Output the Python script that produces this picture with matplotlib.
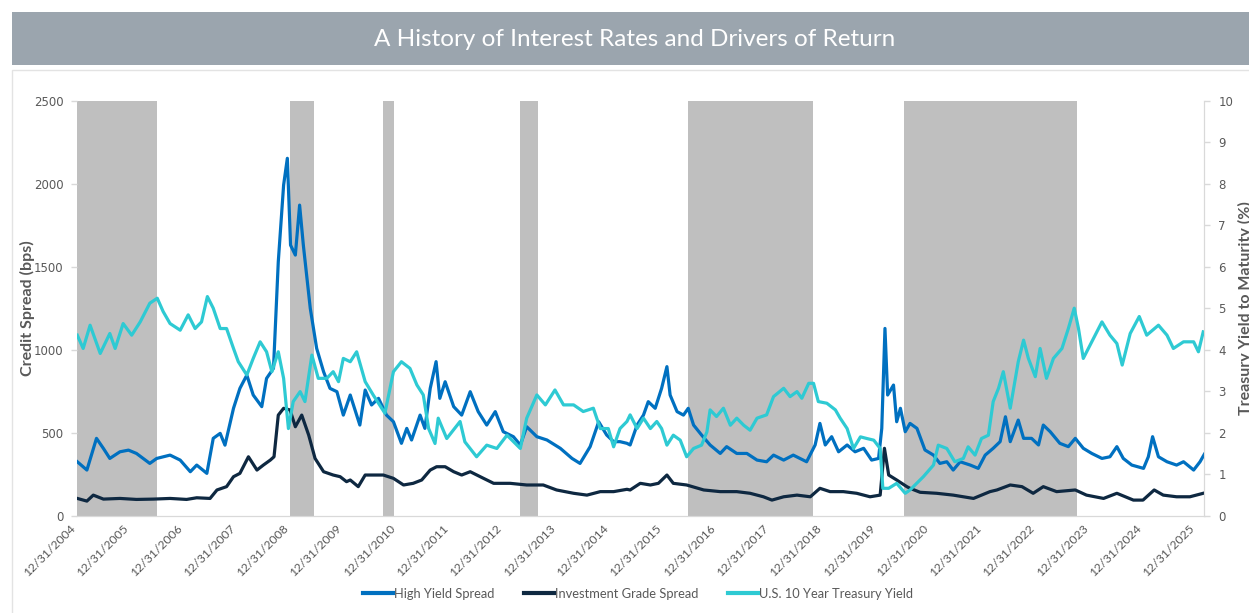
import matplotlib.pyplot as plt
from matplotlib.patches import Rectangle

# values; x is in decimal years (2005.0 = 12/31/2004)
hy_years = [2005.00, 2005.18, 2005.36, 2005.49, 2005.61, 2005.80, 2005.96, 2006.11, 2006.36, 2006.49,
            2006.74, 2006.93, 2007.12, 2007.24, 2007.43, 2007.55, 2007.68, 2007.77, 2007.93, 2008.05,
            2008.18, 2008.30, 2008.46, 2008.55, 2008.68, 2008.77, 2008.87, 2008.94, 2009.00, 2009.09,
            2009.17, 2009.24, 2009.37, 2009.49, 2009.62, 2009.74, 2009.87, 2009.99,
            2010.12, 2010.30, 2010.40, 2010.52, 2010.65, 2010.80, 2010.93, 2011.08, 2011.18, 2011.27,
            2011.43, 2011.52, 2011.62, 2011.73, 2011.80, 2011.90, 2012.06, 2012.21, 2012.37, 2012.52,
            2012.68, 2012.84, 2012.99, 2013.18, 2013.31, 2013.43, 2013.62, 2013.81, 2014.06, 2014.28,
            2014.43, 2014.62, 2014.78, 2014.93, 2015.06, 2015.18, 2015.31,
            2015.37, 2015.50, 2015.62, 2015.71, 2015.84, 2015.96, 2016.06, 2016.12, 2016.25, 2016.37,
            2016.46, 2016.56, 2016.71, 2016.87, 2017.06, 2017.18, 2017.37, 2017.56, 2017.75, 2017.93,
            2018.06, 2018.25, 2018.43, 2018.68, 2018.84, 2018.93, 2019.03, 2019.15, 2019.28, 2019.44,
            2019.59, 2019.75, 2019.90, 2020.03, 2020.09, 2020.15, 2020.20, 2020.31, 2020.37, 2020.44,
            2020.53,
            2020.62, 2020.75, 2020.90, 2021.06, 2021.18, 2021.31, 2021.43, 2021.56, 2021.75, 2021.90,
            2022.03, 2022.18, 2022.31, 2022.41, 2022.50, 2022.65, 2022.75, 2022.90, 2023.03, 2023.12,
            2023.25, 2023.43, 2023.59, 2023.72, 2023.87, 2024.03, 2024.22, 2024.37, 2024.50, 2024.62,
            2024.78, 2025.00, 2025.09, 2025.17, 2025.28, 2025.44, 2025.62, 2025.75, 2025.94, 2026.06,
            2026.14]
hy_spread = [325, 275, 466, 405, 345, 385, 395, 375, 315, 345,
             365, 335, 265, 305, 255, 466, 496, 425, 647, 767,
             847, 727, 657, 827, 888, 1530, 1992, 2153, 1630, 1570,
             1871, 1630, 1249, 1008, 867, 767, 747, 606,
             727, 546, 757, 667, 707, 606, 566, 436, 526, 456,
             606, 526, 767, 928, 707, 807, 657, 606, 747, 627,
             546, 627, 506, 476, 426, 536, 476, 456, 406, 345,
             315, 416, 566, 486, 446, 446, 436,
             426, 546, 606, 687, 647, 767, 898, 727, 627, 606,
             647, 546, 486, 426, 375, 416, 375, 375, 335, 325,
             365, 335, 365, 325, 426, 556, 426, 476, 385, 426,
             385, 406, 335, 345, 526, 1128, 727, 787, 566, 647,
             506,
             556, 526, 396, 365, 315, 325, 275, 325, 305, 285,
             365, 406, 446, 596, 446, 576, 466, 466, 426, 546,
             506, 436, 416, 466, 406, 375, 345, 355, 416, 345,
             305, 285, 355, 476, 355, 325, 305, 325, 275, 325,
             370]

ig_years = [2005.00, 2005.18, 2005.30, 2005.49, 2005.80, 2006.11, 2006.43, 2006.74, 2007.05, 2007.24,
            2007.49, 2007.62, 2007.80, 2007.93, 2008.05, 2008.21, 2008.37, 2008.49, 2008.62, 2008.69,
            2008.77, 2008.87, 2008.99, 2009.09, 2009.21, 2009.34, 2009.46, 2009.62, 2009.80, 2009.93,
            2010.05, 2010.12, 2010.27, 2010.40, 2010.74, 2010.93, 2011.12, 2011.30, 2011.46, 2011.62,
            2011.74, 2011.90, 2012.06, 2012.21, 2012.37, 2012.62, 2012.81, 2013.12, 2013.43, 2013.74,
            2013.99, 2014.31, 2014.56, 2014.81, 2015.06, 2015.31, 2015.37, 2015.56, 2015.75, 2015.90,
            2016.06, 2016.18, 2016.43, 2016.75, 2017.06, 2017.37, 2017.62, 2017.87, 2018.03, 2018.25,
            2018.50, 2018.75, 2018.93, 2019.12, 2019.37, 2019.62, 2019.87, 2020.06, 2020.14, 2020.22,
            2020.37, 2020.56, 2020.62, 2020.81, 2021.12, 2021.43, 2021.81, 2022.12, 2022.25, 2022.50,
            2022.72, 2022.93, 2023.12, 2023.37, 2023.72, 2023.93, 2024.25, 2024.50, 2024.81, 2024.99,
            2025.20, 2025.37, 2025.62, 2025.87, 2026.12]
ig_spread = [104, 88, 124, 100, 104, 98, 100, 104, 98, 108,
             104, 155, 175, 235, 255, 355, 275, 305, 335, 355,
             606, 647, 637, 536, 606, 486, 345, 265, 245, 235,
             205, 215, 175, 245, 245, 225, 185, 195, 215, 275,
             295, 295, 265, 245, 265, 225, 195, 195, 185, 185,
             155, 135, 124, 145, 145, 159, 155, 195, 185, 195,
             245, 195, 185, 155, 145, 145, 135, 114, 94, 114,
             124, 114, 165, 145, 145, 135, 114, 124, 406, 245,
             215, 175, 165, 141, 135, 124, 104, 145, 155, 185,
             175, 135, 175, 145, 155, 124, 104, 135, 94, 94,
             155, 124, 114, 114, 135]

ust_years = [2005.00, 2005.11, 2005.24, 2005.43, 2005.61, 2005.71, 2005.86, 2006.02, 2006.18, 2006.36,
             2006.50, 2006.61, 2006.74, 2006.93, 2007.08, 2007.21, 2007.33, 2007.44, 2007.55, 2007.68,
             2007.80, 2007.93, 2008.02, 2008.18, 2008.30, 2008.43, 2008.55, 2008.65, 2008.77, 2008.87,
             2008.96, 2009.05, 2009.18, 2009.27, 2009.40, 2009.52, 2009.68, 2009.80, 2009.90, 2009.99,
             2010.12, 2010.24, 2010.40, 2010.55, 2010.77, 2010.93, 2011.08, 2011.24, 2011.37, 2011.49,
             2011.59, 2011.71, 2011.77, 2011.93, 2012.18, 2012.27, 2012.49, 2012.68, 2012.87, 2013.06,
             2013.31, 2013.43, 2013.62, 2013.78, 2013.96, 2014.12, 2014.31, 2014.49, 2014.68, 2014.81,
             2014.96, 2015.06, 2015.18, 2015.31,
             2015.37, 2015.50, 2015.62, 2015.75, 2015.87, 2015.96, 2016.06, 2016.18, 2016.31, 2016.43,
             2016.56, 2016.71, 2016.81, 2016.87, 2016.99, 2017.12, 2017.25, 2017.37, 2017.50, 2017.62,
             2017.75, 2017.93, 2018.06, 2018.25, 2018.37, 2018.50, 2018.59, 2018.72, 2018.81, 2018.90,
             2019.06, 2019.22, 2019.31, 2019.44, 2019.56, 2019.69, 2019.81, 2019.94, 2020.06, 2020.11,
             2020.22, 2020.37, 2020.53,
             2020.62, 2020.87, 2021.06, 2021.15, 2021.31, 2021.46, 2021.62, 2021.71, 2021.84, 2021.96,
             2022.09, 2022.18, 2022.28, 2022.37, 2022.50, 2022.65, 2022.75, 2022.84, 2022.97, 2023.06,
             2023.18, 2023.31, 2023.47, 2023.59, 2023.70, 2023.78, 2023.87, 2024.03, 2024.22, 2024.37,
             2024.50, 2024.60, 2024.75, 2024.92, 2025.06, 2025.28, 2025.44, 2025.56, 2025.75, 2025.94,
             2026.03, 2026.12]
ust_yield = [4.35, 4.03, 4.59, 3.91, 4.39, 4.03, 4.63, 4.35, 4.67, 5.12,
             5.24, 4.92, 4.63, 4.47, 4.84, 4.51, 4.67, 5.28, 5.00, 4.51,
             4.51, 4.03, 3.71, 3.39, 3.79, 4.19, 3.95, 3.47, 3.95, 3.31,
             2.10, 2.75, 2.99, 2.75, 3.87, 3.31, 3.31, 3.47, 3.23, 3.79,
             3.71, 3.95, 3.23, 2.91, 2.47, 3.47, 3.71, 3.55, 3.15, 2.91,
             2.10, 1.74, 2.35, 1.86, 2.27, 1.78, 1.42, 1.70, 1.62, 1.94,
             1.62, 2.35, 2.91, 2.67, 3.03, 2.67, 2.67, 2.51, 2.59, 2.10,
             2.10, 1.66, 2.10, 2.27,
             2.43, 2.10, 2.35, 2.10, 2.27, 2.10, 1.70, 1.94, 1.82, 1.42,
             1.62, 1.70, 2.02, 2.55, 2.39, 2.59, 2.18, 2.35, 2.18, 2.06,
             2.35, 2.43, 2.87, 3.07, 2.87, 2.99, 2.83, 3.19, 3.19, 2.75,
             2.71, 2.55, 2.35, 2.10, 1.62, 1.90, 1.86, 1.82, 1.62, 0.66,
             0.66, 0.78, 0.54,
             0.62, 0.94, 1.22, 1.70, 1.62, 1.30, 1.38, 1.66, 1.46, 1.86,
             1.94, 2.75, 3.07, 3.47, 2.59, 3.71, 4.23, 3.79, 3.35, 4.03,
             3.31, 3.79, 4.03, 4.51, 5.00, 4.51, 3.79, 4.19, 4.67, 4.35,
             4.15, 3.63, 4.39, 4.80, 4.35, 4.59, 4.35, 4.03, 4.19, 4.19,
             3.95, 4.43]

shade_start = [2005.00, 2008.99, 2010.74, 2013.31, 2016.46, 2020.51]
shade_end = [2006.50, 2009.44, 2010.94, 2013.65, 2018.80, 2023.75]

tick_years = list(range(2005, 2027))
tick_labels = ["12/31/%d" % (y - 1) for y in tick_years]

txt = "#595959"
axis_grey = "#D9D9D9"

fig = plt.figure(figsize=(12.49, 6.13), dpi=100)

# title banner and chart frame
fig.add_artist(Rectangle((12 / 1249, 1 - 65 / 613), 1, 53 / 613, transform=fig.transFigure,
                         facecolor="#9BA5AE", edgecolor="none"))
fig.text(0.508, 1 - 39 / 613, "A History of Interest Rates and Drivers of Return", color="white",
         fontsize=17.5, family="Lato", ha="center", va="center")
fig.add_artist(Rectangle((12 / 1249, -0.01), 1, 1 - 70 / 613 + 0.01, transform=fig.transFigure,
                         facecolor="none", edgecolor="#E3E3E3", lw=1))

ax = fig.add_axes([77.3 / 1249, 1 - 515.7 / 613, 1127 / 1249, 415 / 613])
ax2 = ax.twinx()

for s, e in zip(shade_start, shade_end):
    ax.axvspan(s, e, color="#BFBFBF", lw=0, zorder=1)

ax.plot(hy_years, hy_spread, color="#0070C0", lw=2.3, zorder=3, label="High Yield Spread")
ax.plot(ig_years, ig_spread, color="#0E2841", lw=2.3, zorder=3, label="Investment Grade Spread")
ax2.plot(ust_years, ust_yield, color="#2ECAD3", lw=2.3, label="U.S. 10 Year Treasury Yield")

ax.set_xlim(2005.0, 2026.14)
ax.set_ylim(0, 2500)
ax2.set_ylim(0, 10)
ax.set_yticks(range(0, 2501, 500))
ax2.set_yticks(range(0, 11))
ax.set_xticks(tick_years)
ax.set_xticklabels(tick_labels, rotation=45, ha="right", fontsize=8.8, family="Lato", color=txt)

for a in (ax, ax2):
    for sp in a.spines.values():
        sp.set_color(axis_grey)
    a.spines["top"].set_visible(False)
    a.tick_params(axis="y", colors=txt, labelsize=8.5, length=4, width=1, color=axis_grey)
ax.spines["left"].set_visible(False)
ax2.spines["left"].set_visible(False)
ax.tick_params(axis="x", length=0, pad=5)
ax.tick_params(axis="y", pad=6)
ax2.tick_params(axis="y", pad=6)

ax.set_ylabel("Credit Spread (bps)", fontsize=11.5, fontweight="bold", family="Lato", color=txt)
ax.yaxis.set_label_coords(-0.0375, 0.5)
ax2.set_ylabel("Treasury Yield to Maturity (%)", fontsize=11.5, fontweight="bold", family="Lato",
               color=txt)
ax2.yaxis.set_label_coords(1.030, 0.5)

h1, l1 = ax.get_legend_handles_labels()
h2, l2 = ax2.get_legend_handles_labels()
leg = fig.legend(h1 + h2, l1 + l2, loc="center", bbox_to_anchor=(0.511, 1 - 594 / 613), ncol=3,
                 frameon=False, handlelength=2.3, handletextpad=0.1, columnspacing=2.3,
                 prop={"family": "Lato", "size": 9.3})
for t in leg.get_texts():
    t.set_color(txt)
for h in leg.get_lines():
    h.set_linewidth(3)

fig.savefig("out.png", dpi=100)
